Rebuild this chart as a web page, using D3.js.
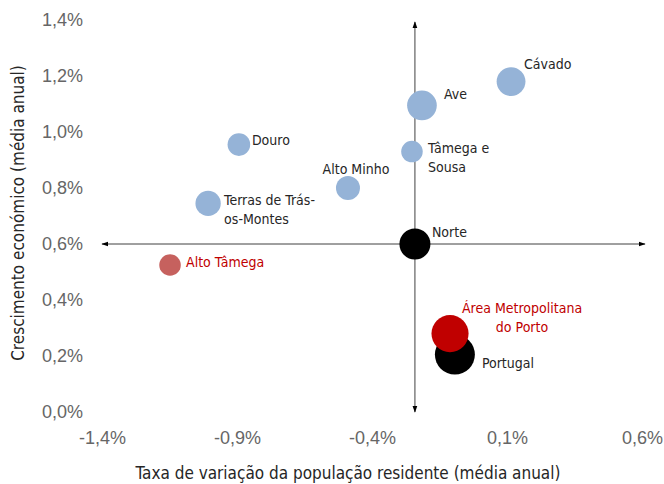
<!DOCTYPE html>
<html lang='pt'>
  <head>
    <meta charset='utf-8'>
    <title>Norte - crescimento e população</title>
    <script type='text/javascript' src='https://cdn.jsdelivr.net/npm/d3@7'></script>
    <style type='text/css'>
      body { margin: 0; background: white; }
      svg { font-family: 'DejaVu Sans Condensed', 'DejaVu Sans', sans-serif; }
      .tick text { fill: #666666; font-size: 18px; }
      .lbl { font-size: 14px; fill: #262626; }
      .ttl { font-size: 17px; fill: #262626; }
    </style>
  </head>
  <body>
    <div id='chart'></div>
    <script type='text/javascript'>

    // Dados
    var regioes = ['Cávado', 'Ave', 'Tâmega e Sousa', 'Douro', 'Alto Minho',
                   'Terras de Trás-os-Montes', 'Alto Tâmega', 'Norte',
                   'Portugal', 'Área Metropolitana do Porto'];
    var populacao = [0.115, -0.215, -0.252, -0.893, -0.489, -1.007, -1.148, -0.241, -0.093, -0.111];
    var crescimento = [1.18, 1.095, 0.93, 0.955, 0.80, 0.745, 0.525, 0.60, 0.205, 0.28];
    var dimensao = [52, 55, 29, 32, 36, 40, 29, 60, 100, 86];
    var grupo = ['sub', 'sub', 'sub', 'sub', 'sub', 'sub', 'baixo', 'regiao', 'pais', 'amp'];
    var xTicks = [-1.4, -0.9, -0.4, 0.1, 0.6];
    var yTicks = [0, 0.2, 0.4, 0.6, 0.8, 1.0, 1.2, 1.4];

    // etiquetas: linhas e deslocamento (px) em relação ao centro
    var etiquetas = [
      { l: ['Cávado'], dx: 13, dy: -13, a: 'start' },
      { l: ['Ave'], dx: 22, dy: -6, a: 'start' },
      { l: ['Tâmega e', 'Sousa'], dx: 16, dy: 1, a: 'start' },
      { l: ['Douro'], dx: 13, dy: 0, a: 'start' },
      { l: ['Alto Minho'], dx: 8, dy: -14, a: 'middle' },
      { l: ['Terras de Trás-', 'os-Montes'], dx: 16, dy: 2, a: 'start' },
      { l: ['Alto Tâmega'], dx: 16, dy: 2, a: 'start' },
      { l: ['Norte'], dx: 17, dy: -7, a: 'start' },
      { l: ['Portugal'], dx: 27, dy: 13, a: 'start' },
      { l: ['Área Metropolitana', 'do Porto'], dx: 72, dy: -21, a: 'middle' }
    ];

    var cores = { sub: '#95b3d7', baixo: '#c0504d', regiao: '#000000', amp: '#c00000', pais: '#000000' };
    var corTexto = { baixo: '#c00000', amp: '#c00000' };

    var dados = regioes.map(function(d, i) {
      return { nome: d, x: populacao[i], y: crescimento[i], s: dimensao[i], g: grupo[i], e: etiquetas[i] };
    });

    var width = 664, height = 484;

    var svg = d3.select('#chart')
      .append('svg')
      .attr('width', width)
      .attr('height', height);

    // Scales
    var xScale = d3.scaleLinear().domain([-1.4, 0.6]).range([102, 642]);
    var yScale = d3.scaleLinear().domain([0, 1.4]).range([412, 20]);
    var rScale = d3.scaleSqrt().domain([0, 100]).range([0, 20]);

    var fmt = function(d) { return d.toFixed(1).replace('.', ',') + '%'; };

    // Axis labels (sem linhas)
    var yAxis = d3.axisLeft(yScale).tickValues(yTicks).tickSize(0).tickPadding(0).tickFormat(fmt);
    svg.append('g')
      .attr('class', 'y axis')
      .attr('transform', 'translate(83,0)')
      .call(yAxis)
      .call(function(g) { g.select('.domain').remove(); });

    var xAxis = d3.axisBottom(xScale).tickValues(xTicks).tickSize(0).tickPadding(0).tickFormat(fmt);
    svg.append('g')
      .attr('class', 'x axis')
      .attr('transform', 'translate(0,431)')
      .call(xAxis)
      .call(function(g) { g.select('.domain').remove(); });

    // arrows
    var defs = svg.append('defs');
    defs.append('marker')
      .attr('id', 'seta')
      .attr('viewBox', '0 0 10 10')
      .attr('refX', 9).attr('refY', 5)
      .attr('markerWidth', 7).attr('markerHeight', 7)
      .attr('markerUnits', 'userSpaceOnUse')
      .attr('orient', 'auto-start-reverse')
      .append('path')
      .attr('d', 'M0,1.5 L10,5 L0,8.5 Z')
      .attr('fill', '#000');

    var norte = dados[7];
    svg.append('line')
      .attr('x1', xScale(-1.4)).attr('x2', xScale(0.6) + 3)
      .attr('y1', yScale(norte.y)).attr('y2', yScale(norte.y))
      .attr('stroke', '#404040').attr('stroke-width', 1)
      .attr('marker-start', 'url(#seta)').attr('marker-end', 'url(#seta)');
    svg.append('line')
      .attr('x1', xScale(norte.x)).attr('x2', xScale(norte.x))
      .attr('y1', yScale(1.4) + 2).attr('y2', yScale(0))
      .attr('stroke', '#404040').attr('stroke-width', 1)
      .attr('marker-start', 'url(#seta)').attr('marker-end', 'url(#seta)');

    // bubbles
    svg.append('g').selectAll('circle')
      .data(dados)
      .enter()
      .append('circle')
      .attr('cx', function(d) { return xScale(d.x); })
      .attr('cy', function(d) { return yScale(d.y); })
      .attr('r', function(d) { return rScale(d.s); })
      .attr('fill', function(d) { return cores[d.g]; })
      .attr('opacity', function(d) { return d.g == 'baixo' ? 0.9 : 1; });

    // labels
    var lbl = svg.append('g').selectAll('text')
      .data(dados)
      .enter()
      .append('text')
      .attr('class', 'lbl')
      .attr('text-anchor', function(d) { return d.e.a; })
      .style('fill', function(d) { return corTexto[d.g] || '#262626'; })
      .attr('transform', function(d) {
        return 'translate(' + (xScale(d.x) + d.e.dx) + ',' + (yScale(d.y) + d.e.dy) + ')';
      });
    lbl.selectAll('tspan')
      .data(function(d) { return d.e.l; })
      .enter()
      .append('tspan')
      .attr('x', 0)
      .attr('y', function(d, i) { return i * 19; })
      .text(function(d) { return d; });

    // titles
    svg.append('text')
      .attr('class', 'ttl')
      .attr('x', 348).attr('y', 479)
      .attr('text-anchor', 'middle')
      .text('Taxa de variação da população residente (média anual)');

    svg.append('text')
      .attr('class', 'ttl')
      .attr('transform', 'translate(24,213) rotate(-90)')
      .attr('text-anchor', 'middle')
      .text('Crescimento económico (média anual)');

    </script>
  </body>
</html>
